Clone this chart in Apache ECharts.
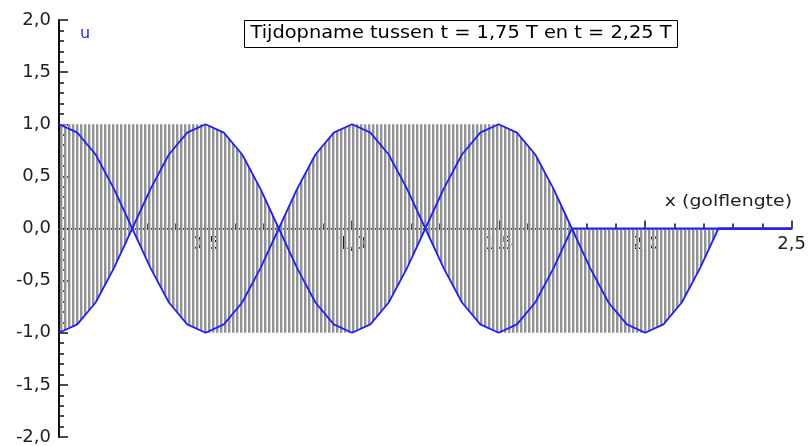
<!DOCTYPE html>
<html>
<head>
    <meta charset="utf-8">
    <title>Tijdopname</title>
    <script src="https://cdn.jsdelivr.net/npm/echarts@6/dist/echarts.min.js"></script>
    <style>
        body { margin: 0; background: #fff; }
    </style>
</head>
<body>
<div id="main" style="width: 809px;height:446px;"></div>
<script type="text/javascript">
    // x in golflengtes, stap 1/16
    var xs = [0, 0.0625, 0.125, 0.1875, 0.25, 0.3125, 0.375, 0.4375, 0.5,
        0.5625, 0.625, 0.6875, 0.75, 0.8125, 0.875, 0.9375, 1,
        1.0625, 1.125, 1.1875, 1.25, 1.3125, 1.375, 1.4375, 1.5,
        1.5625, 1.625, 1.6875, 1.75, 1.8125, 1.875, 1.9375, 2,
        2.0625, 2.125, 2.1875, 2.25, 2.3125, 2.375, 2.4375, 2.5];

    // momentopname t = 1,75 T
    var uStart = [1, 0.92, 0.71, 0.38, 0, -0.38, -0.71, -0.92, -1,
        -0.92, -0.71, -0.38, 0, 0.38, 0.71, 0.92, 1,
        0.92, 0.71, 0.38, 0, -0.38, -0.71, -0.92, -1,
        -0.92, -0.71, -0.38, 0, 0, 0, 0, 0,
        0, 0, 0, 0, 0, 0, 0, 0];

    // momentopname t = 2,25 T
    var uEnd = [-1, -0.92, -0.71, -0.38, 0, 0.38, 0.71, 0.92, 1,
        0.92, 0.71, 0.38, 0, -0.38, -0.71, -0.92, -1,
        -0.92, -0.71, -0.38, 0, 0.38, 0.71, 0.92, 1,
        0.92, 0.71, 0.38, 0, -0.38, -0.71, -0.92, -1,
        -0.92, -0.71, -0.38, 0, 0, 0, 0, 0];

    // omhullende van alle tussenliggende opnames
    var envTop = [1, 1, 1, 1, 1, 1, 1, 1, 1,
        0.92, 0.71, 0.38, 0, 0.38, 0.71, 0.92, 1,
        1, 1, 1, 1, 1, 1, 1, 1,
        0.92, 0.71, 0.38, 0, 0, 0, 0, 0,
        0, 0, 0, 0, null, null, null, null];
    var envBottom = [-1, -0.92, -0.71, -0.38, 0, -0.38, -0.71, -0.92, -1,
        -1, -1, -1, -1, -1, -1, -1, -1,
        -0.92, -0.71, -0.38, 0, -0.38, -0.71, -0.92, -1,
        -1, -1, -1, -1, -1, -1, -1, -1,
        -0.92, -0.71, -0.38, 0, null, null, null, null];

    var yTicks = [-2, -1.5, -1, -0.5, 0, 0.5, 1, 1.5, 2];
    var xTicks = [0, 0.5, 1, 1.5, 2, 2.5];

    function pairs(vals) {
        var out = [];
        for (var i = 0; i < xs.length; i++) out.push([xs[i], vals[i]]);
        return out;
    }
    function komma(v) {
        return v.toFixed(1).replace('.', ',');
    }

    // streepjespatroon voor het grijze vlak
    var pat = document.createElement('canvas');
    pat.width = 4; pat.height = 2;
    var pc = pat.getContext('2d');
    pc.fillStyle = '#939393'; pc.fillRect(0, 0, 2, 2);
    pc.fillStyle = '#d0d0d0'; pc.fillRect(2, 0, 1, 2);

    var font = 'DejaVu Sans';
    var blue = '#1f1fff';

    var myChart = echarts.init(document.getElementById('main'));
    var option = {
        animation: false,
        grid: { left: 59, right: 16, top: 20, bottom: 9 },
        xAxis: {
            type: 'value',
            min: xTicks[0],
            max: xTicks[xTicks.length - 1],
            interval: 0.5,
            offset: -208.5,
            axisLine: { onZero: false, lineStyle: { color: '#555', width: 2 } },
            axisTick: { inside: true, length: 8, lineStyle: { color: '#111', width: 1.5 } },
            minorTick: { show: true, splitNumber: 5, length: 5, lineStyle: { color: '#111', width: 1.5 } },
            splitLine: { show: false },
            axisLabel: {
                showMinLabel: false, margin: 7,
                color: '#222', fontFamily: font, fontSize: 18,
                formatter: komma
            }
        },
        yAxis: {
            type: 'value',
            min: yTicks[0],
            max: yTicks[yTicks.length - 1],
            interval: 0.5,
            axisLine: { show: true, onZero: false, lineStyle: { color: '#111', width: 2 } },
            axisTick: { inside: true, length: 9, lineStyle: { color: '#111', width: 1.5 } },
            minorTick: { show: true, splitNumber: 5, length: 5, lineStyle: { color: '#111', width: 1.5 } },
            splitLine: { show: false },
            axisLabel: {
                margin: 8, color: '#222', fontFamily: font, fontSize: 18,
                formatter: komma
            }
        },
        graphic: [
            {
                type: 'rect', left: 244, top: 20, z: 10,
                shape: { width: 433, height: 27 },
                style: { fill: '#fff', stroke: '#000', lineWidth: 1 }
            },
            {
                type: 'text', x: 461, y: 34, z: 11, scaleX: 1.14,
                style: {
                    text: 'Tijdopname tussen t = 1,75 T en t = 2,25 T',
                    fill: '#000', font: '17px ' + font,
                    textAlign: 'center', textVerticalAlign: 'middle'
                }
            },
            {
                type: 'text', x: 792, y: 202, z: 11, scaleX: 1.18,
                style: {
                    text: 'x (golflengte)', fill: '#222', font: '16px ' + font,
                    textAlign: 'right', textVerticalAlign: 'middle'
                }
            },
            {
                type: 'text', x: 80, y: 34, z: 11,
                style: {
                    text: 'u', fill: blue, font: '16px ' + font,
                    textVerticalAlign: 'middle'
                }
            }
        ],
        series: [
            {
                name: 'boven', type: 'line', data: pairs(envTop),
                showSymbol: false, lineStyle: { width: 0 }, z: 2,
                areaStyle: { origin: 0, opacity: 1, color: { image: pat, repeat: 'repeat' } }
            },
            {
                name: 'onder', type: 'line', data: pairs(envBottom),
                showSymbol: false, lineStyle: { width: 0 }, z: 2,
                areaStyle: { origin: 0, opacity: 1, color: { image: pat, repeat: 'repeat' } }
            },
            {
                name: 't = 1,75 T', type: 'line', data: pairs(uStart),
                showSymbol: false, z: 4,
                lineStyle: { color: blue, width: 1.8 }
            },
            {
                name: 't = 2,25 T', type: 'line', data: pairs(uEnd),
                showSymbol: false, z: 4,
                lineStyle: { color: blue, width: 1.8 }
            }
        ]
    };
    myChart.setOption(option);
</script>
</body>
</html>
